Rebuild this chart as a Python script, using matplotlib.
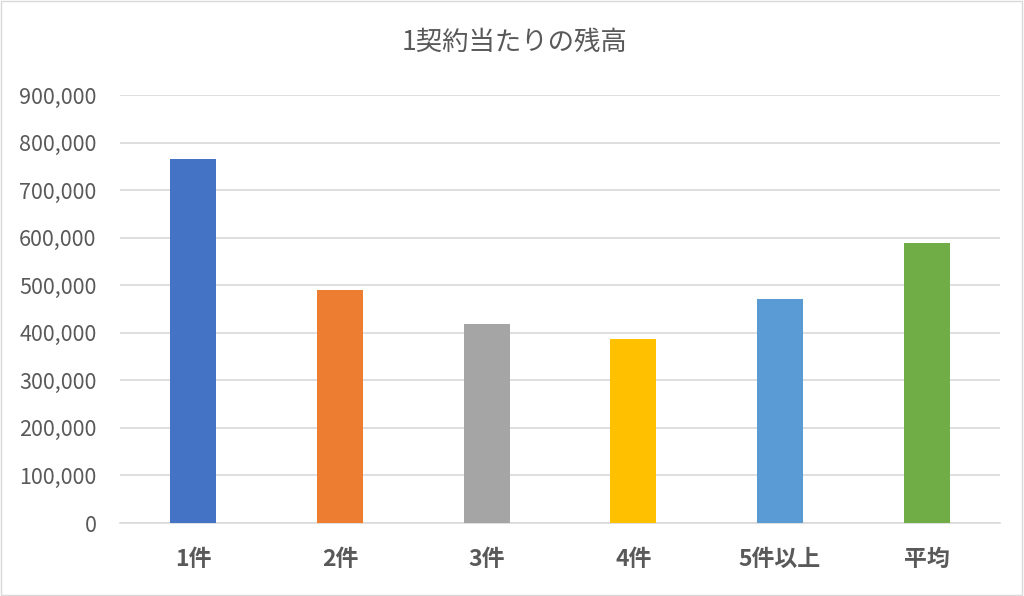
import matplotlib.pyplot as plt
from matplotlib.ticker import FuncFormatter
from matplotlib.patches import Rectangle

plt.rcParams['font.family'] = ['Noto Sans CJK JP', 'DejaVu Sans']

# data
categories = ['1件', '2件', '3件', '4件', '5件以上', '平均']
balances = [765000, 490000, 418000, 387000, 471000, 589000]
colors = ['#4472C4', '#ED7D31', '#A5A5A5', '#FFC000', '#5B9BD5', '#70AD47']
title = '1契約当たりの残高'

fig = plt.figure(figsize=(10.24, 5.96), dpi=100)
ax = fig.add_axes([120 / 1024, 73 / 596, 880 / 1024, 428 / 596])

x = range(len(categories))
ax.bar(x, balances, width=0.315, color=colors, zorder=3)

ax.set_xlim(-0.5, len(categories) - 0.5)
ax.set_ylim(0, 900000)
ax.set_yticks(range(0, 900001, 100000))
ax.yaxis.set_major_formatter(FuncFormatter(lambda v, p: '{:,.0f}'.format(v)))
ax.grid(axis='y', color='#D9D9D9', linewidth=1.2, zorder=0)

ax.set_xticks(list(x))
ax.set_xticklabels(categories, fontsize=16.5, fontweight='bold', color='#595959')
ax.tick_params(axis='y', labelsize=15.5, labelcolor='#595959', length=0, pad=17)
ax.tick_params(axis='x', length=0, pad=18)

for side in ['top', 'right', 'left']:
    ax.spines[side].set_visible(False)
ax.spines['bottom'].set_color('#D9D9D9')
ax.spines['bottom'].set_linewidth(1.2)

fig.text(515 / 1024, 1 - 42 / 596, title, ha='center', va='center', fontsize=19,
         color='#595959')

# outer border like the excel chart area
fig.patches.append(Rectangle((0.001, 0.002), 0.997, 0.996, transform=fig.transFigure,
                             fill=False, edgecolor='#D9D9D9', linewidth=1))

fig.savefig('out.png', dpi=100)
